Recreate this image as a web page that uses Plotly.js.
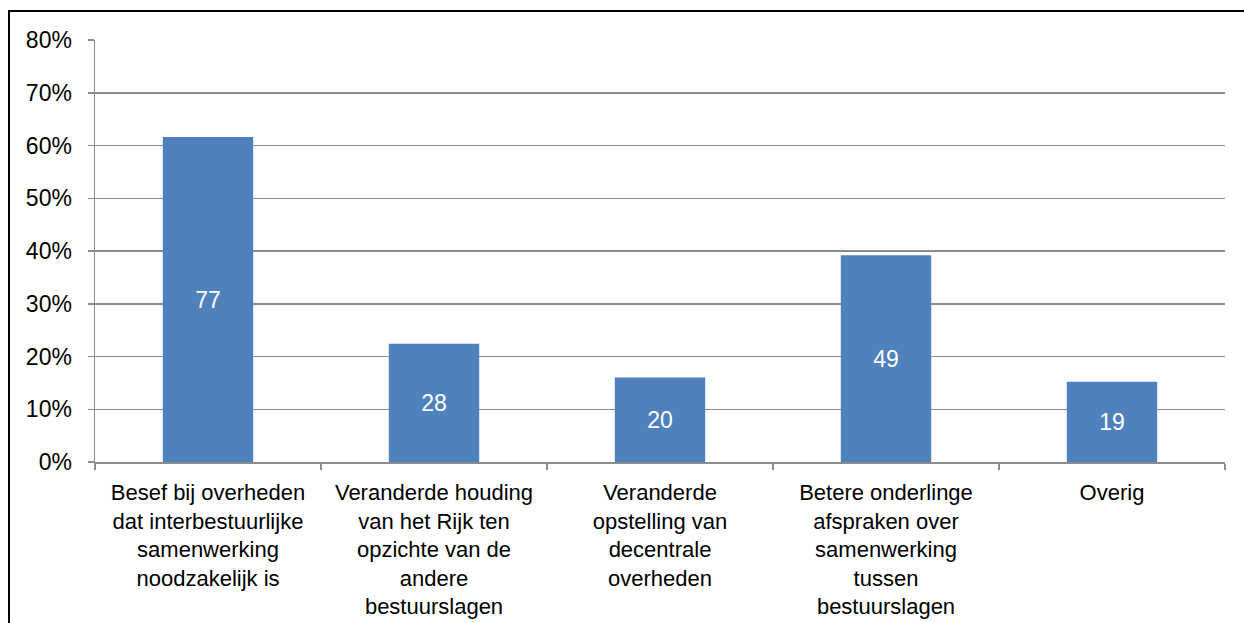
<!DOCTYPE html>
<html>
<head>
<meta charset="utf-8">
<script src="https://cdn.plot.ly/plotly-3.0.1.min.js"></script>
<style>
  body { margin: 0; background: #fff; overflow: hidden; }
  #frame { position: absolute; left: 8px; top: 10px; width: 1300px; height: 700px;
           border-left: 2.5px solid #000; border-top: 2.5px solid #000; }
  #plotArea { position: absolute; left: 0; top: 0; width: 1244px; height: 623px; }
</style>
</head>
<body>
<div id="frame"></div>
<div id="plotArea"></div>
<script>
// Categories (x-axis tick labels)
var categories = [
    "Besef bij overheden<br>dat interbestuurlijke<br>samenwerking<br>noodzakelijk is",
    "Veranderde houding<br>van het Rijk ten<br>opzichte van de<br>andere<br>bestuurslagen",
    "Veranderde<br>opstelling van<br>decentrale<br>overheden",
    "Betere onderlinge<br>afspraken over<br>samenwerking<br>tussen<br>bestuurslagen",
    "Overig"
];
// Number of respondents (shown in the bars)
var counts = [77, 28, 20, 49, 19];
// Share of respondents (bar heights)
var shares = [0.616, 0.224, 0.16, 0.392, 0.152];

var trace = {
    x: categories,
    y: shares,
    text: counts.map(String),
    type: "bar",
    marker: {color: "#4F81BD"},
    textposition: "inside",
    insidetextanchor: "middle",
    textangle: 0,
    textfont: {color: "#ffffff", size: 23, family: "Liberation Sans, Arial, sans-serif"},
    hoverinfo: "none"
};

var layout = {
    width: 1244,
    height: 623,
    margin: {l: 95, r: 19, t: 40, b: 161},
    paper_bgcolor: "rgba(0,0,0,0)",
    plot_bgcolor: "#ffffff",
    bargap: 0.6,
    showlegend: false,
    font: {family: "Liberation Sans, Arial, sans-serif", size: 23, color: "#000000"},
    xaxis: {
        type: "category",
        showline: true,
        linecolor: "#8c8c8c",
        linewidth: 1.5,
        ticks: "outside",
        tickson: "boundaries",
        ticklen: 6,
        tickwidth: 1.5,
        tickcolor: "#8c8c8c",
        showgrid: false,
        tickangle: 0,
        ticklabelstandoff: 10,
        tickfont: {size: 22}
    },
    yaxis: {
        range: [0, 0.8],
        dtick: 0.1,
        tickformat: ".0%",
        showline: true,
        linecolor: "#8c8c8c",
        linewidth: 1.5,
        ticks: "outside",
        ticklen: 6,
        tickwidth: 1.5,
        tickcolor: "#8c8c8c",
        showgrid: true,
        gridcolor: "#8c8c8c",
        gridwidth: 1.5,
        zeroline: false,
        ticklabelstandoff: 11,
        tickfont: {size: 23}
    }
};

Plotly.newPlot("plotArea", [trace], layout, {staticPlot: true, displayModeBar: false});
</script>
</body>
</html>
